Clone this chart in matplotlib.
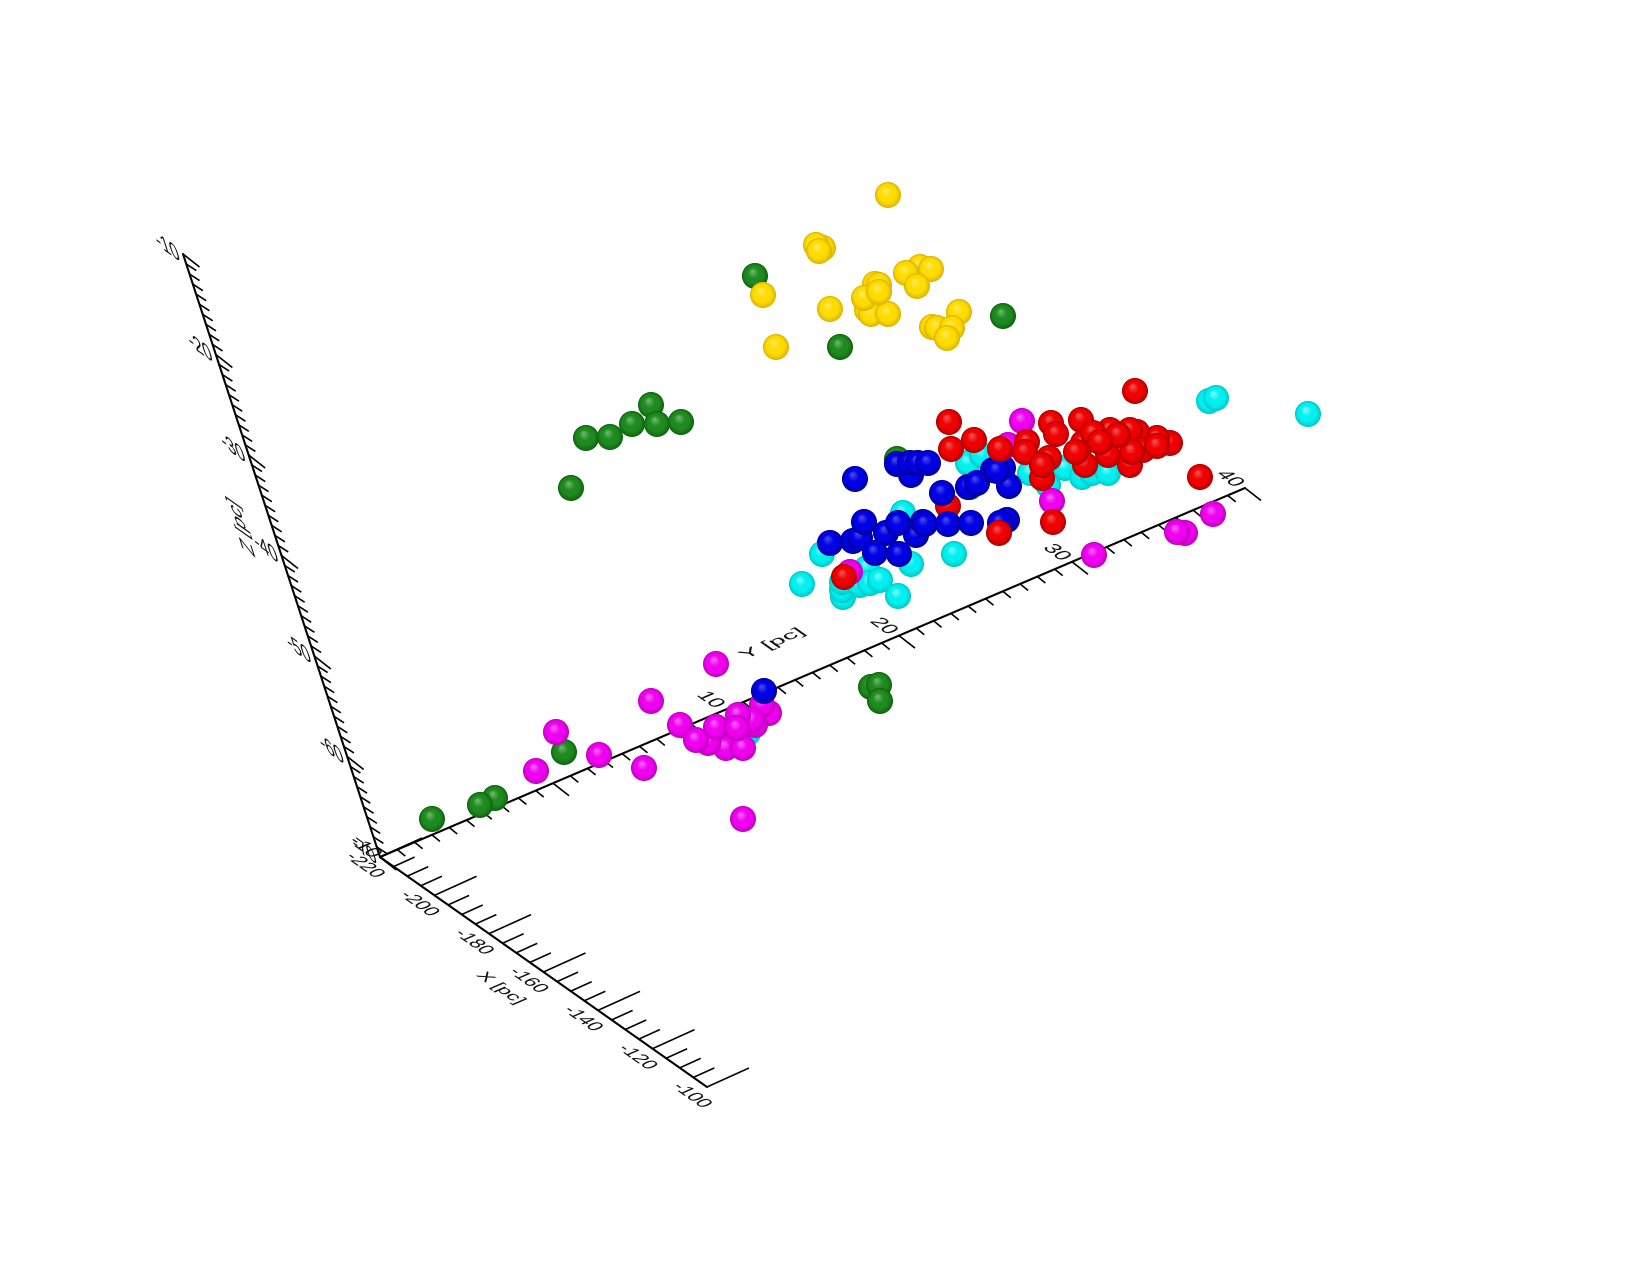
import numpy as np
import matplotlib
matplotlib.use('Agg')
import matplotlib.pyplot as plt
from matplotlib.collections import LineCollection
from matplotlib.patheffects import AbstractPathEffect
from matplotlib.transforms import Affine2D

# Star positions as they appear on the projected image (pixels)
green_x = [897, 970, 651, 586, 610, 632, 657, 681, 571, 871, 879, 880, 564, 432, 495, 480, 755, 840, 1003]
green_y = [459, 487, 405, 438, 437, 424, 424, 422, 488, 687, 685, 701, 752, 819, 798, 805, 276, 347, 316]

yellow_x = [888, 763, 830, 776, 823, 816, 819, 867, 871, 888, 875, 879, 864, 879, 920, 931, 906, 917, 959, 932, 937, 952, 947]
yellow_y = [195, 295, 309, 347, 248, 245, 251, 310, 314, 314, 284, 285, 298, 292, 267, 269, 273, 286, 312, 327, 328, 328, 338]

cyan_x = [748, 822, 802, 903, 954, 911, 843, 842, 842, 845, 860, 867, 870, 880, 898, 968, 982, 1030, 1048, 1065, 1082, 1092, 1108, 1308, 1209, 1216]
cyan_y = [733, 554, 584, 513, 554, 564, 597, 590, 582, 577, 585, 568, 583, 580, 596, 463, 455, 473, 485, 468, 477, 473, 473, 414, 401, 398]

magenta_x = [556, 536, 651, 599, 644, 743, 716, 769, 762, 755, 752, 738, 726, 708, 716, 680, 696, 743, 737, 1022, 1008, 1052, 1094, 1185, 1177, 1213, 850]
magenta_y = [732, 771, 701, 755, 768, 819, 664, 713, 705, 725, 720, 715, 748, 743, 727, 725, 740, 748, 728, 421, 445, 501, 555, 533, 532, 514, 572]

red_back_x = [948]
red_back_y = [506]

blue_x = [764, 855, 911, 897, 910, 918, 928, 942, 968, 977, 993, 1003, 1009, 997, 853, 830, 860, 864, 886, 916, 898, 923, 925, 948, 971, 875, 899, 1007, 1000]
blue_y = [691, 479, 475, 464, 463, 463, 463, 493, 487, 483, 470, 468, 486, 471, 541, 543, 538, 522, 533, 535, 523, 522, 524, 524, 523, 553, 554, 520, 523]

red_x = [844, 949, 951, 974, 1000, 1027, 1025, 1051, 1056, 1081, 1135, 1049, 1042, 1042, 1200, 1053, 999, 1170, 1157, 1137, 1130, 1110, 1083, 1108, 1085, 1130, 1143, 1157, 1132, 1118, 1076, 1093, 1100]
red_y = [577, 422, 449, 440, 449, 442, 452, 423, 434, 420, 391, 458, 478, 465, 477, 522, 533, 443, 438, 432, 430, 430, 443, 455, 465, 465, 450, 446, 452, 435, 452, 433, 442]

# Axis tick values and labels
x_ticks = [-220, -200, -180, -160, -140, -120, -100]
y_ticks = [-10, 0, 10, 20, 30, 40]
z_ticks = [-10, -20, -30, -40, -50, -60, -70]
x_labels = ['-220', '-200', '-180', '-160', '-140', '-120', '-100']
y_labels = ['-10', '0', '10', '20', '30', '40']
z_labels = ['-10', '-20', '-30', '-40', '-50', '-60', '-70']

# Where the axes sit on the image
ORIGIN = np.array([380.0, 857.0])
X_END = np.array([707.0, 1087.0])
Y_END = np.array([1245.0, 488.0])
Z_END = np.array([183.0, 254.0])

# Directions on screen with y pointing up, used to skew the labels
X_DIR = np.array([0.817, -0.577])
Y_DIR = np.array([0.918, 0.396])
Z_DIR = np.array([-0.31, 0.95])

RADIUS = 13.0
DPI = 100


class Skewed(AbstractPathEffect):
    """ Draws text centred on its anchor with its glyphs along two given screen vectors """

    def __init__(self, u, v):
        self.u = u
        self.v = v

    def draw_path(self, renderer, gc, tpath, affine, rgbFace=None):
        m = affine.get_matrix()
        box = tpath.get_extents()
        centred = Affine2D().translate(-(box.x0 + box.x1) / 2, -(box.y0 + box.y1) / 2).scale(m[0, 0])
        basis = Affine2D(np.array([[self.u[0], self.v[0], m[0, 2]],
                                   [self.u[1], self.v[1], m[1, 2]],
                                   [0, 0, 1]]))
        renderer.draw_path(gc, tpath, centred + basis, rgbFace)


def place(start, end, v0, v1, values):
    """ Position on the image of the given axis values """
    t = (np.asarray(values, dtype=float) - v0) / (v1 - v0)
    return start + t[:, None] * (end - start)


def draw_ticks(ax, start, end, v0, v1, step, major, major_tick, minor_tick):
    """ Draws an axis line with its major and minor ticks """
    n = int(round(abs(v1 - v0) / step))
    values = [v0 + i * step * np.sign(v1 - v0) for i in range(n + 1)]
    segs = []
    for val, p in zip(values, place(start, end, v0, v1, values)):
        tick = major_tick if val in major else minor_tick
        segs.append([p, p + tick])
    ax.add_collection(LineCollection(segs, colors='black', linewidths=1.15, zorder=2))
    ax.plot([start[0], end[0]], [start[1], end[1]], color='black', lw=1.5, zorder=2,
            solid_capstyle='round')


def skew_text(ax, pos, s, u, v, su, sv):
    t = ax.text(pos[0], pos[1], s, fontsize=10, family='Liberation Sans', color='#111111',
                ha='left', va='baseline', zorder=3)
    # fontsize 10pt is 13.9 px at this dpi, the vectors scale from there
    t.set_path_effects([Skewed(u * su / 13.89, v * sv / 13.89)])


def sphere_layers(px, py, rim, base, light):
    """ Nested discs that shade one colour group as lit spheres """
    px = np.asarray(px, dtype=float)
    py = np.asarray(py, dtype=float)
    rim, base, light = [np.array(matplotlib.colors.to_rgb(c)) for c in (rim, base, light)]
    steps = np.linspace(0, 1, 24, endpoint=False)
    xs, ys, sizes, cols = [], [], [], []
    for x0, y0 in zip(px, py):
        for t in steps:
            if t < 0.3:
                col = rim + (base - rim) * (t / 0.3) ** 0.8
            elif t < 0.55:
                col = base
            else:
                col = base + (light - base) * ((t - 0.55) / 0.45) * 0.8
            r = RADIUS * (1 - t)
            xs.append(x0 - 0.2 * RADIUS * t)
            ys.append(y0 - 0.37 * RADIUS * t)
            sizes.append((2 * r * 72 / DPI) ** 2)
            cols.append(col)
    return xs, ys, sizes, cols


fig = plt.figure(figsize=(16.5, 12.64), dpi=DPI)
ax = fig.add_axes([0, 0, 1, 1])
ax.set_xlim(0, 1650)
ax.set_ylim(1264, 0)
ax.axis('off')

# Axes, ticks point along the other axes (image coordinates, y down)
draw_ticks(ax, ORIGIN, X_END, -220, -100, 5, x_ticks, np.array([42.0, -19.0]), np.array([21.0, -9.5]))
draw_ticks(ax, ORIGIN, Y_END, -10, 40, 1, y_ticks, np.array([16.0, 12.5]), np.array([8.0, 6.5]))
draw_ticks(ax, Z_END, ORIGIN, -10, -70, 1, z_ticks, np.array([16.5, 13.0]), np.array([10.0, 6.5]))

for p, s in zip(place(ORIGIN, X_END, -220, -100, x_ticks), x_labels):
    skew_text(ax, p + np.array([-14, 8]), s, X_DIR, Y_DIR, 19, 19)
for p, s in zip(place(ORIGIN, Y_END, -10, 40, y_ticks), y_labels):
    skew_text(ax, p + np.array([-14, -10]), s, X_DIR, Y_DIR, 21, 20)
for p, s in zip(place(Z_END, ORIGIN, -10, -70, z_ticks), z_labels):
    skew_text(ax, p + np.array([-16, -8]), s, X_DIR, Z_DIR, 20, 25)

# Axis titles
skew_text(ax, (500, 988), 'X [pc]', X_DIR, Y_DIR, 20, 17)
skew_text(ax, (772, 644), 'Y [pc]', Y_DIR, -X_DIR, 26, 16)
skew_text(ax, (242, 528), 'Z [pc]', Z_DIR, -X_DIR, 23, 23)

# Back to front, the last group lands on top
groups = [
    (green_x, green_y, '#0e640e', '#1f8a1f', '#8ccc8c'),
    (yellow_x, yellow_y, '#dcb400', '#ffdc00', '#fff088'),
    (cyan_x, cyan_y, '#00c8c8', '#00f0f0', '#b0ffff'),
    (magenta_x, magenta_y, '#c000c0', '#f000f0', '#f494f4'),
    (red_back_x, red_back_y, '#b00000', '#f00000', '#f07878'),
    (blue_x, blue_y, '#000098', '#0000e6', '#6a6ae8'),
    (red_x, red_y, '#b00000', '#f00000', '#f07878'),
]
all_x, all_y, all_s, all_c = [], [], [], []
for px, py, rim, base, light in groups:
    xs, ys, sizes, cols = sphere_layers(px, py, rim, base, light)
    all_x += xs
    all_y += ys
    all_s += sizes
    all_c += cols
ax.scatter(all_x, all_y, s=all_s, c=all_c, linewidths=0, zorder=5)

fig.savefig('out.png', dpi=DPI)
